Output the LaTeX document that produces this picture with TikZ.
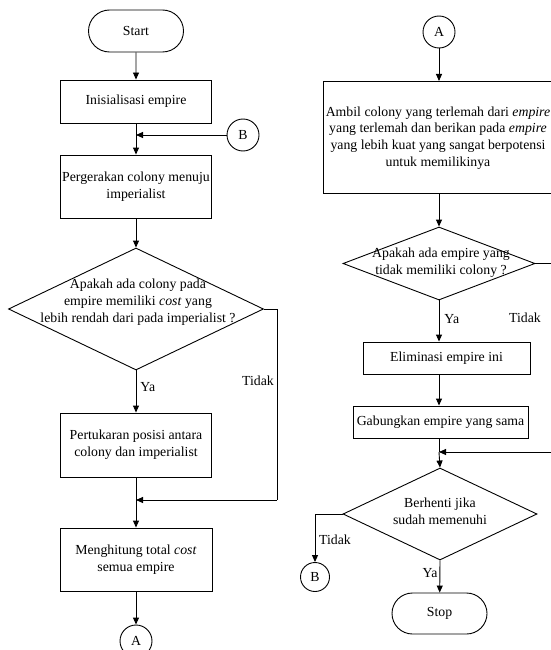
\documentclass[tikz,border=0pt]{standalone}
\usepackage{fontspec}
\setmainfont{Liberation Serif}
\usetikzlibrary{shapes.geometric,shapes.misc,arrows.meta}
\tikzset{
  proc/.style={draw, rectangle, inner sep=0pt, align=center, line width=0.9pt},
  term/.style={draw, rounded rectangle, inner sep=0pt, line width=0.9pt},
  conn/.style={draw, circle, inner sep=0pt, minimum size=32pt, line width=0.9pt},
  dec/.style={draw, diamond, inner sep=0pt, line width=0.9pt},
  txt/.style={align=center, inner sep=0pt},
  arr/.style={line width=0.9pt, -{Triangle[length=7pt,width=6pt]}},
  ln/.style={line width=0.9pt},
}
\begin{document}
\begin{tikzpicture}[x=1pt,y=-1pt,font=\fontsize{13.8}{16.8}\selectfont]
\useasboundingbox (0,0) rectangle (551,650);
\clip (0,0) rectangle (551,650);
% left column
\node[term, minimum width=95pt, minimum height=42pt] (start) at (136,31) {Start};
\node[proc, minimum width=151pt, minimum height=43pt] (init) at (136,101.5) {Inisialisasi empire};
\node[conn] (b1) at (243,135) {B};
\node[proc, minimum width=151pt, minimum height=63pt] (move) at (136,186.5) {Pergerakan colony menuju\\imperialist};
\node[dec, minimum width=255pt, minimum height=122pt] (d1) at (136,309) {};
\node[txt] (d1t) at (138,302) {Apakah ada colony pada\\empire memiliki \textit{cost} yang\\lebih rendah dari pada imperialist ?};
\node[proc, minimum width=151pt, minimum height=64pt] (swap) at (136,445) {Pertukaran posisi antara\\colony dan imperialist};
\node[proc, minimum width=152pt, minimum height=63pt] (calc) at (136,559.5) {Menghitung total \textit{cost}\\semua empire};
\node[conn] (a1) at (136,641) {A};
\coordinate (jb) at (136,135);
\coordinate (j1) at (136,500);
\coordinate (r1) at (277,309);
\coordinate (r2) at (277,500);
\draw[arr] (start) -- (init);
\draw[ln] (init) -- (jb);
\draw[arr] (jb) -- (move);
\draw[arr] (b1) -- (jb);
\draw[arr] (move) -- (d1);
\draw[arr] (d1) -- node[right, pos=0.4, txt, xshift=4pt] (ya1) {Ya} (swap);
\draw[ln] (d1.east) -- (r1) -- (r2);
\draw[arr] (r2) -- (j1);
\node[txt] (tidak1) at (258,381) {Tidak};
\draw[ln] (swap) -- (j1);
\draw[arr] (j1) -- (calc);
\draw[arr] (calc) -- (a1);
% right column
\node[conn] (a2) at (439,32) {A};
\node[proc, minimum width=245pt, minimum height=112pt] (take) at (445.5,137) {};
\node[txt] (taket) at (438,138) {Ambil colony yang terlemah dari \textit{empire}\\yang terlemah dan berikan pada \textit{empire}\\yang lebih kuat yang sangat berpotensi\\untuk memilikinya};
\node[dec, minimum width=192pt, minimum height=73pt] (d2) at (439,263.5) {};
\node[txt] (d2t) at (441,263) {Apakah ada empire yang\\tidak memiliki colony ?};
\node[proc, minimum width=167pt, minimum height=32pt] (elim) at (446.5,358) {Eliminasi empire ini};
\node[proc, minimum width=175pt, minimum height=32pt] (merge) at (440.5,422) {Gabungkan empire yang sama};
\node[dec, minimum width=194pt, minimum height=92pt] (d3) at (440,514) {};
\node[txt] (d3t) at (440,511) {Berhenti jika\\sudah memenuhi};
\node[term, minimum width=95pt, minimum height=41pt] (stop) at (439.5,613.5) {Stop};
\node[conn, minimum size=29pt] (b2) at (315,577) {B};
\coordinate (ti) at (439,81);
\coordinate (j2) at (439,452);
\coordinate (r3) at (557,263.5);
\coordinate (r4) at (557,452);
\coordinate (l3) at (315,514);
\draw[arr] (a2) -- (ti);
\draw[arr] (take.south -| a2) -- (d2.north);
\draw[arr] (d2) -- node[right, txt, xshift=5pt, pos=0.45] (ya2) {Ya} (elim.north -| d2);
\node[txt] (tidak2) at (525,318) {Tidak};
\draw[ln] (d2.east) -- (r3) -- (r4);
\draw[arr] (r4) -- (j2);
\draw[arr] (elim.south -| d2) -- (merge.north -| d2);
\draw[ln] (merge.south -| d2) -- (j2);
\draw[arr] (j2) -- (d3.north);
\draw[ln] (d3.west) -- (l3);
\draw[arr] (l3) -- (b2);
\node[txt] (tidak3) at (335,540) {Tidak};
\draw[arr] (d3.south) -- node[left, txt, xshift=-2pt, pos=0.4] (ya3) {Ya} (stop);
\end{tikzpicture}
\end{document}
